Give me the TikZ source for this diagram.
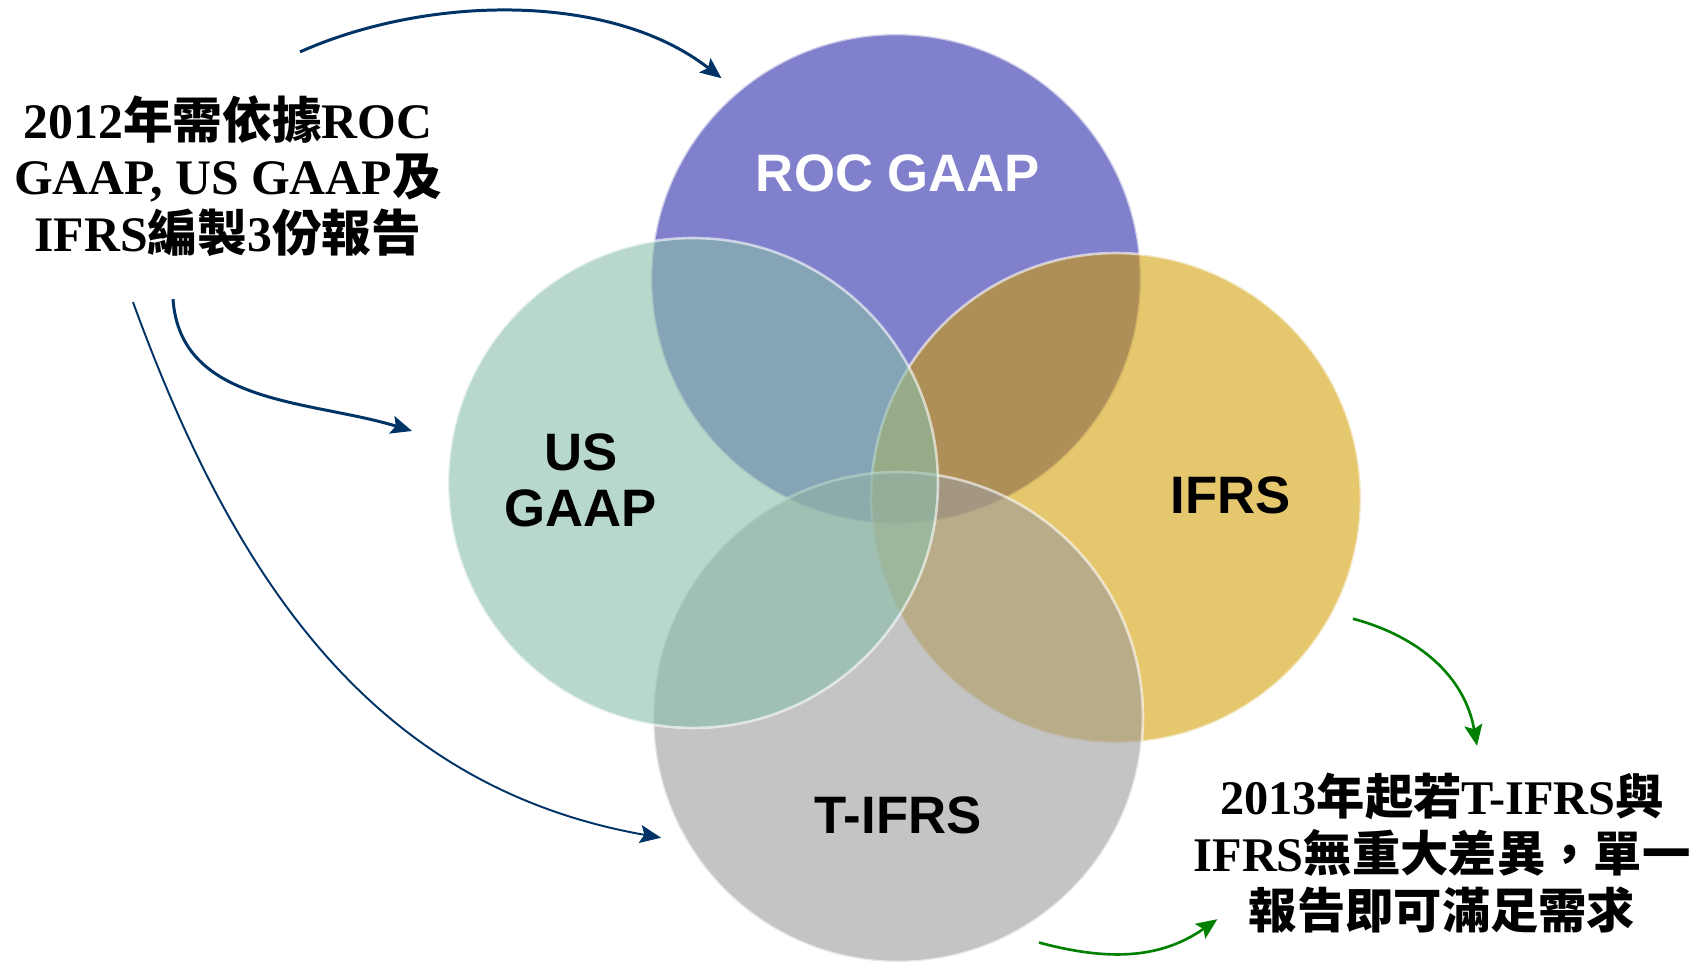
\documentclass[tikz,border=0pt]{standalone}
\usepackage{fontspec}
\setmainfont{Liberation Serif}
\setsansfont{Liberation Sans}
\newfontfamily\cjk{Noto Sans CJK TC}
\usetikzlibrary{arrows.meta}
\newcommand\zh[1]{{\cjk #1}}
\definecolor{rocc}{RGB}{128,128,204}
\definecolor{usc}{RGB}{137,190,170}
\definecolor{ifrsc}{RGB}{210,156,0}
\definecolor{tifrsc}{RGB}{157,157,157}
\definecolor{navy}{RGB}{0,51,102}
\definecolor{leaf}{RGB}{0,128,0}
\tikzset{
  venn/.style={circle, minimum size=9.8cm, inner sep=0pt, outer sep=0.42cm,
    draw=white, draw opacity=0.6, line width=1.5pt},
  tag/.style={font=\sffamily\bfseries\fontsize{30}{32}\selectfont, align=center},
  note/.style={font=\bfseries\fontsize{28.3}{32.3}\selectfont, align=center, inner sep=0pt},
  navyarrow/.style={navy, line width=1.7pt, -{Stealth[length=0.42cm,width=0.36cm,inset=0.08cm]}},
  leafarrow/.style={leaf, line width=1.5pt, -{Stealth[length=0.42cm,width=0.36cm,inset=0.08cm]}}
}
\begin{document}
\begin{tikzpicture}[x=0.02cm,y=0.02cm]
\useasboundingbox (0,0) rectangle (1700,964);
\node[venn, fill=rocc] (roc) at (896,685) {};
\node[venn, fill=ifrsc, fill opacity=0.57] (ifrs) at (1116,466) {};
\node[venn, fill=tifrsc, fill opacity=0.6] (tifrs) at (898,247) {};
\node[venn, fill=usc, fill opacity=0.6] (us) at (693,481) {};
\node[tag, white] (rocl) at (898,791) {ROC GAAP};
\node[tag] (usl) at (581,484) {US\\GAAP};
\node[tag] (ifrsl) at (1231,469) {IFRS};
\node[tag] (tifrsl) at (898,149) {T-IFRS};
\node[note] (prep) at (228,788) {2012\zh{年需依據}ROC\\GAAP, US GAAP\zh{及}\\IFRS\zh{編製}3\zh{份報告}};
\node[note, font=\bfseries\fontsize{27.5}{32.3}\selectfont] (single) at (1442,111) {2013\zh{年起若}T-IFRS\zh{與}\\IFRS\zh{無重大差異，單一}\\\zh{報告即可滿足需求}};
\draw[navyarrow] ([shift={(72,43)}]prep.north) to[out=24,in=142,looseness=0.85] (roc.131);
\draw[navyarrow] ([shift={(-55,-42)}]prep.south) to[out=-86,in=163] ([shift={(-15,52)}]us.west);
\draw[navyarrow, line width=1.1pt] ([shift={(-95,-45)}]prep.south) to[out=-70,in=170] (tifrs.207);
\draw[leafarrow] (ifrs.333) to[out=-15,in=100] ([shift={(35,27)}]single.north);
\draw[leafarrow] (tifrs.302) to[out=-15,in=215] ([shift={(24,14)}]single.south west);
\end{tikzpicture}
\end{document}
